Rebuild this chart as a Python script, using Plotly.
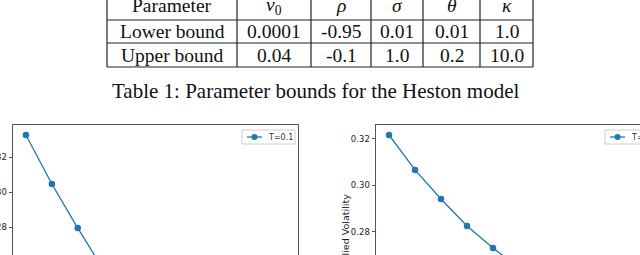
import plotly.graph_objects as go

W, H = 640, 255

# ---- table data ----
row_labels = ["Parameter", "Lower bound", "Upper bound"]
param_names = ["<i>v</i><sub>0</sub>", "<i>ρ</i>", "<i>σ</i>", "<i>θ</i>", "<i>κ</i>"]
lower_bounds = ["0.0001", "-0.95", "0.01", "0.01", "1.0"]
upper_bounds = ["0.04", "-0.1", "1.0", "0.2", "10.0"]
caption = "Table 1: Parameter bounds for the Heston model"

# ---- plot data ----
strikes_left = [0.80, 0.85, 0.90, 0.95]
iv_left = [0.3326, 0.3046, 0.2794, 0.2554]
label_left = "T=0.1"

strikes_right = [0.80, 0.85, 0.90, 0.95, 1.00, 1.05]
iv_right = [0.3217, 0.3067, 0.2942, 0.2826, 0.2731, 0.2645]
label_right = "T=0.2"

yticks = [0.28, 0.30, 0.32]

BLUE = "#1f77b4"
FRAME = "#555555"


def px(x):
    return x / W


def py(y):
    return 1 - y / H


fig = go.Figure()

fig.add_trace(go.Scatter(x=strikes_left, y=iv_left, mode="lines+markers",
                         line=dict(color=BLUE, width=1.3),
                         marker=dict(color=BLUE, size=6.5),
                         xaxis="x", yaxis="y", showlegend=False))
fig.add_trace(go.Scatter(x=strikes_right, y=iv_right, mode="lines+markers",
                         line=dict(color=BLUE, width=1.3),
                         marker=dict(color=BLUE, size=6.5),
                         xaxis="x2", yaxis="y2", showlegend=False))

shapes = []
annotations = []

# table grid
col_edges = [107, 237, 311, 371, 423, 480, 533]
row_edges = [-5, 20, 43, 67]
for x in col_edges:
    shapes.append(dict(type="line", xref="paper", yref="paper",
                       x0=px(x), x1=px(x), y0=py(row_edges[0]), y1=py(row_edges[-1]),
                       line=dict(color="#222", width=1.2)))
for y in row_edges[1:]:
    shapes.append(dict(type="line", xref="paper", yref="paper",
                       x0=px(col_edges[0]), x1=px(col_edges[-1]), y0=py(y), y1=py(y),
                       line=dict(color="#222", width=1.2)))

serif = "Liberation Serif"
rows = [[row_labels[0]] + param_names,
        [row_labels[1]] + lower_bounds,
        [row_labels[2]] + upper_bounds]
row_centers = [5.5, 31.5, 55]
for r, cells in enumerate(rows):
    for c, txt in enumerate(cells):
        xc = (col_edges[c] + col_edges[c + 1]) / 2
        annotations.append(dict(text=txt, xref="paper", yref="paper",
                                x=px(xc), y=py(row_centers[r]), xanchor="center",
                                yanchor="middle", showarrow=False,
                                font=dict(family=serif, size=19.5, color="#111")))

annotations.append(dict(text=caption, xref="paper", yref="paper", x=px(316), y=py(91),
                        xanchor="center", yanchor="middle", showarrow=False,
                        font=dict(family=serif, size=21, color="#111")))

# legends (drawn as boxes)
for (bx, lab) in [(242, label_left), (605, label_right)]:
    shapes.append(dict(type="rect", xref="paper", yref="paper",
                       x0=px(bx), x1=px(bx + 53), y0=py(130), y1=py(144),
                       line=dict(color="#cccccc", width=1), fillcolor="white"))
    shapes.append(dict(type="line", xref="paper", yref="paper",
                       x0=px(bx + 5), x1=px(bx + 20), y0=py(137), y1=py(137),
                       line=dict(color=BLUE, width=1.3)))
    shapes.append(dict(type="circle", xref="paper", yref="paper",
                       x0=px(bx + 9.5), x1=px(bx + 15.5), y0=py(134), y1=py(140),
                       line=dict(color=BLUE, width=0), fillcolor=BLUE))
    annotations.append(dict(text=lab, xref="paper", yref="paper", x=px(bx + 24), y=py(137),
                            xanchor="left", yanchor="middle", showarrow=False,
                            font=dict(family="DejaVu Sans", size=8, color="#333")))

annotations.append(dict(text="Implied Volatility", xref="paper", yref="paper",
                        x=px(345), y=py(233.5), textangle=-90, xanchor="center",
                        yanchor="middle", showarrow=False,
                        font=dict(family="DejaVu Sans", size=9.5, color="#222")))

ax_common = dict(showgrid=False, zeroline=False)
xcommon = dict(side="top", showline=True, linecolor=FRAME, linewidth=1,
               showticklabels=False, ticks="", **ax_common)
ycommon = dict(showline=True, linecolor=FRAME, linewidth=1, ticks="outside",
               ticklen=3.5, tickcolor=FRAME, tickwidth=1,
               tickvals=yticks, ticktext=[f"{v:.2f}" for v in yticks],
               tickfont=dict(family="DejaVu Sans", size=8.5, color="#222"),
               automargin=False, **ax_common)

fig.update_layout(
    width=W, height=H,
    margin=dict(l=0, r=0, t=0, b=0),
    paper_bgcolor="white", plot_bgcolor="white",
    xaxis=dict(domain=[px(13), px(298)], range=[0.775, 1.325], anchor="y", **xcommon),
    yaxis=dict(domain=[0, py(125)], range=[0.264, 0.3383], anchor="x", mirror=True, **ycommon),
    xaxis2=dict(domain=[px(376), 1], range=[0.775, 1.2827], anchor="y2", **xcommon),
    yaxis2=dict(domain=[0, py(125)], range=[0.2701, 0.3260], anchor="x2", **ycommon),
    shapes=shapes,
    annotations=annotations,
    showlegend=False,
)

fig.write_html("out.html", config={"displayModeBar": False},
               post_script="document.body.style.margin='0';")
